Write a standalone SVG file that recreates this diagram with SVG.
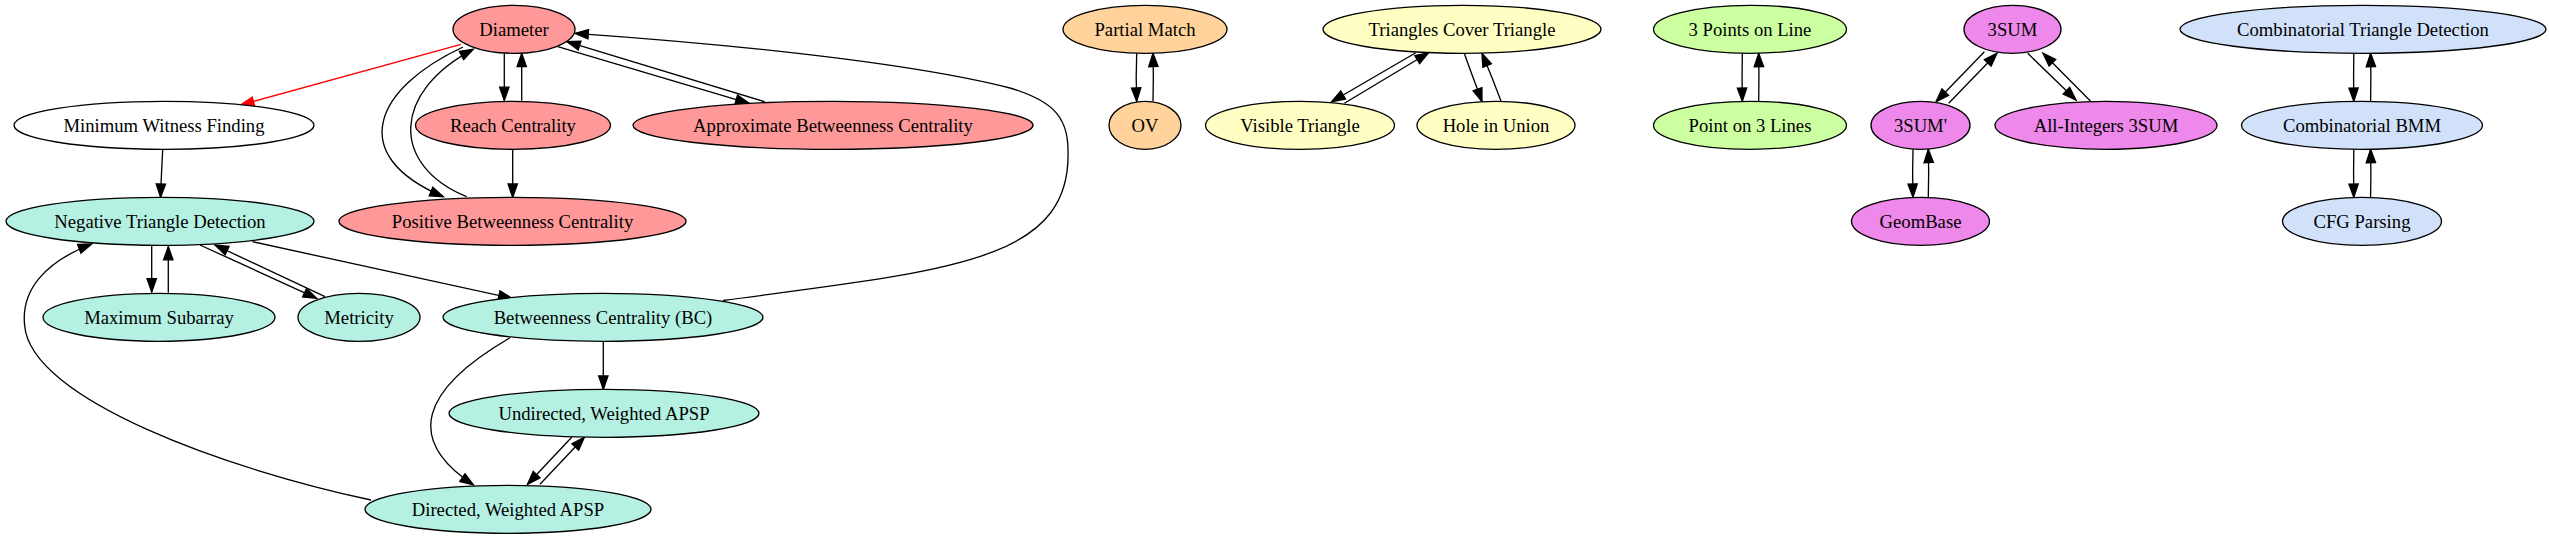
<svg xmlns="http://www.w3.org/2000/svg" width="2549" height="539" viewBox="0 0 2549 539">
<style>
.n ellipse{stroke:#000;stroke-width:1.33}
.n text{font-family:"Liberation Serif","Times New Roman",serif;font-size:18.67px;text-anchor:middle;fill:#000}
.red ellipse{fill:#ff9999}
.teal ellipse{fill:#b5f1e3}
.wh ellipse{fill:#ffffff}
.or ellipse{fill:#ffd39b}
.ye ellipse{fill:#ffffc4}
.gr ellipse{fill:#ccff9f}
.vi ellipse{fill:#ee88ea}
.bl ellipse{fill:#d2e1fa}
#edges path{fill:none;stroke:#000;stroke-width:1.33;marker-end:url(#ah)}
#edges path.r{stroke:#ff0000;marker-end:url(#ahr)}
</style>
<defs>
<marker id="ah" markerUnits="userSpaceOnUse" markerWidth="16" markerHeight="12" viewBox="-1 -6 16 12" refX="13.33" refY="0" orient="auto">
<path d="M0,-4.67 L13.33,0 L0,4.67 Z" fill="#000" stroke="#000" stroke-width="1.33"/>
</marker>
<marker id="ahr" markerUnits="userSpaceOnUse" markerWidth="16" markerHeight="12" viewBox="-1 -6 16 12" refX="13.33" refY="0" orient="auto">
<path d="M0,-4.67 L13.33,0 L0,4.67 Z" fill="#ff0000" stroke="#ff0000" stroke-width="1.33"/>
</marker>
</defs>
<rect width="2549" height="539" fill="#fff"/>
<g id="edges">
<path class="r" d="M461,44.3 L240.6,105"/>
<path d="M504.3,53.5 L504.3,100.5"/>
<path d="M521.7,100.7 L521.7,53.3"/>
<path d="M557.7,46.7 L749,103.3"/>
<path d="M764.6,101.7 L566.8,41.7"/>
<path d="M463,47 C375,88 345,155 443.3,196.7"/>
<path d="M466.7,196.7 C390,165 392,92 473.3,49.3"/>
<path d="M512.7,149.3 L512.7,197.3"/>
<path d="M162.7,149.3 C162,165 161,180 160.6,197.3"/>
<path d="M151.7,245.3 L151.7,292"/>
<path d="M168.3,292.7 L168.3,246.5"/>
<path d="M200,245 L316.7,298.3"/>
<path d="M325,296.7 L215,245"/>
<path d="M252.5,241.7 L512,298.3"/>
<path d="M723,300.5 C950,270 1072,262 1068,150 C1068,115 1050,100 1010,88 C900,60 700,42 575,33.3"/>
<path d="M603.3,341.3 L603.3,389.3"/>
<path d="M510,337.7 C420,390 405,440 473.5,485"/>
<path d="M571.7,437.3 L527.5,484.3"/>
<path d="M540,484.3 L584.4,437.3"/>
<path d="M371,500 C230,470 30,400 24.6,325 C21,290 45,262 91.7,244"/>
<path d="M1136.7,53.3 C1136,70 1136,85 1136.7,101.3"/>
<path d="M1153,101.3 C1153.5,85 1153.5,70 1153,53.3"/>
<path d="M1415.8,52.7 L1331.6,101.7"/>
<path d="M1344.4,103.3 L1428.6,52.7"/>
<path d="M1464.3,53.3 C1470,70 1476,85 1482,101.7"/>
<path d="M1501,101 C1495,85 1489,70 1482,53.3"/>
<path d="M1742.3,53.3 C1742,70 1742,85 1742.3,101.3"/>
<path d="M1758.7,101.3 C1759,85 1759,70 1758.7,53.3"/>
<path d="M1984.4,51.7 L1936,101.7"/>
<path d="M1948.7,103.3 L1997,53.3"/>
<path d="M2027.7,53.3 L2076,100"/>
<path d="M2090.4,101 L2043,53.3"/>
<path d="M1913,149.3 C1912.5,165 1912.5,180 1913,197.3"/>
<path d="M1928.3,197.3 C1928.8,180 1928.8,165 1928.3,149.3"/>
<path d="M2353.8,53.3 C2353.5,70 2353.5,85 2353.8,101.3"/>
<path d="M2370.6,101.3 C2371,85 2371,70 2370.6,53.3"/>
<path d="M2353.8,149.3 C2353.5,165 2353.5,180 2353.8,197.3"/>
<path d="M2370.6,197.3 C2371,180 2371,165 2370.6,149.3"/>
</g>
<g id="diameter" class="n red"><ellipse cx="514" cy="29.3" rx="61" ry="24"/><text x="514" y="35.5">Diameter</text></g>
<g id="minwitness" class="n wh"><ellipse cx="164" cy="125.3" rx="150" ry="24"/><text x="164" y="131.5">Minimum Witness Finding</text></g>
<g id="reach" class="n red"><ellipse cx="513" cy="125.3" rx="97.5" ry="24"/><text x="513" y="131.5">Reach Centrality</text></g>
<g id="approxbc" class="n red"><ellipse cx="833" cy="125.3" rx="200" ry="24"/><text x="833" y="131.5">Approximate Betweenness Centrality</text></g>
<g id="negtri" class="n teal"><ellipse cx="160" cy="221.3" rx="154" ry="24"/><text x="160" y="227.5">Negative Triangle Detection</text></g>
<g id="posbc" class="n red"><ellipse cx="512.5" cy="221.3" rx="173.6" ry="24"/><text x="512.5" y="227.5">Positive Betweenness Centrality</text></g>
<g id="maxsub" class="n teal"><ellipse cx="159" cy="317.3" rx="116" ry="24"/><text x="159" y="323.5">Maximum Subarray</text></g>
<g id="metricity" class="n teal"><ellipse cx="359" cy="317.3" rx="61" ry="24"/><text x="359" y="323.5">Metricity</text></g>
<g id="bc" class="n teal"><ellipse cx="603" cy="317.3" rx="160" ry="24"/><text x="603" y="323.5">Betweenness Centrality (BC)</text></g>
<g id="uapsp" class="n teal"><ellipse cx="604" cy="413.3" rx="155" ry="24"/><text x="604" y="419.5">Undirected, Weighted APSP</text></g>
<g id="dapsp" class="n teal"><ellipse cx="508" cy="509.3" rx="143" ry="24"/><text x="508" y="515.5">Directed, Weighted APSP</text></g>
<g id="pm" class="n or"><ellipse cx="1145" cy="29.3" rx="82" ry="24"/><text x="1145" y="35.5">Partial Match</text></g>
<g id="ov" class="n or"><ellipse cx="1145" cy="125.3" rx="36" ry="24"/><text x="1145" y="131.5">OV</text></g>
<g id="tct" class="n ye"><ellipse cx="1462" cy="29.3" rx="139" ry="24"/><text x="1462" y="35.5">Triangles Cover Triangle</text></g>
<g id="vt" class="n ye"><ellipse cx="1300" cy="125.3" rx="94.5" ry="24"/><text x="1300" y="131.5">Visible Triangle</text></g>
<g id="hiu" class="n ye"><ellipse cx="1496" cy="125.3" rx="79" ry="24"/><text x="1496" y="131.5">Hole in Union</text></g>
<g id="p3l" class="n gr"><ellipse cx="1750" cy="29.3" rx="96.5" ry="24"/><text x="1750" y="35.5">3 Points on Line</text></g>
<g id="po3l" class="n gr"><ellipse cx="1750" cy="125.3" rx="96.5" ry="24"/><text x="1750" y="131.5">Point on 3 Lines</text></g>
<g id="sum3" class="n vi"><ellipse cx="2012.5" cy="29.3" rx="48.5" ry="24"/><text x="2012.5" y="35.5">3SUM</text></g>
<g id="sum3p" class="n vi"><ellipse cx="1920.5" cy="125.3" rx="49.5" ry="24"/><text x="1920.5" y="131.5">3SUM'</text></g>
<g id="ai3sum" class="n vi"><ellipse cx="2106" cy="125.3" rx="111" ry="24"/><text x="2106" y="131.5">All-Integers 3SUM</text></g>
<g id="geombase" class="n vi"><ellipse cx="1920.5" cy="221.3" rx="69" ry="24"/><text x="1920.5" y="227.5">GeomBase</text></g>
<g id="ctd" class="n bl"><ellipse cx="2363" cy="29.3" rx="183" ry="24"/><text x="2363" y="35.5">Combinatorial Triangle Detection</text></g>
<g id="cbmm" class="n bl"><ellipse cx="2362" cy="125.3" rx="120.5" ry="24"/><text x="2362" y="131.5">Combinatorial BMM</text></g>
<g id="cfg" class="n bl"><ellipse cx="2362" cy="221.3" rx="79.5" ry="24"/><text x="2362" y="227.5">CFG Parsing</text></g>
</svg>
